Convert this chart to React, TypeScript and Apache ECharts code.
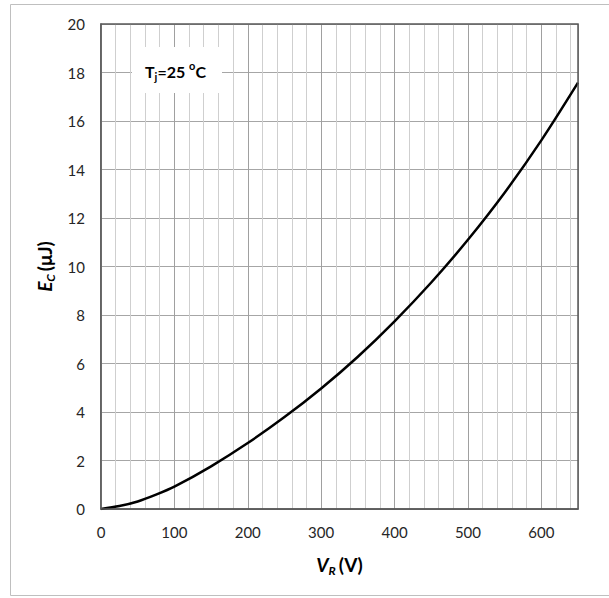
import React, { useEffect, useRef } from "react";
import * as echarts from "echarts";

const voltage = [0, 25, 50, 75, 100, 150, 200, 250, 300, 350, 400, 450, 500, 550, 600, 650];
const energy = [0, 0.12, 0.31, 0.59, 0.92, 1.76, 2.72, 3.79, 4.97, 6.28, 7.74, 9.34, 11.1, 13.04, 15.2, 17.58];
const xMin = 0;
const xMax = 650;
const xMajor = 100;
const xMinor = 20;
const yMin = 0;
const yMax = 20;
const yStep = 2;

const FONT = "Lato, 'Liberation Sans', sans-serif";

export default function App() {
  const ref = useRef<HTMLDivElement>(null);
  useEffect(() => {
    if (!ref.current) return;
    const chart = echarts.init(ref.current, undefined, { renderer: "svg" });
    const data = voltage.map((v, i) => [v, energy[i]]);
    const titleRich = {
      it: { fontSize: 19, fontWeight: "bold", fontStyle: "italic", lineHeight: 24, verticalAlign: "middle", fontFamily: FONT, color: "#000" },
      sub: { fontSize: 12, fontWeight: "bold", fontStyle: "italic", lineHeight: 12, verticalAlign: "bottom", fontFamily: FONT, color: "#000" },
      n: { fontSize: 19, fontWeight: "bold", lineHeight: 24, verticalAlign: "middle", fontFamily: FONT, color: "#000", padding: [0, 0, 0, 3] },
    };
    chart.setOption({
      animation: false,
      backgroundColor: "#ffffff",
      grid: {
        left: 101,
        top: 24,
        right: 31,
        bottom: 89,
        show: true,
        borderColor: "#595959",
        borderWidth: 1.5,
        backgroundColor: "transparent",
        z: 3,
      },
      xAxis: [
        {
          type: "value",
          min: xMin,
          max: xMax,
          interval: xMajor,
          z: 1,
          axisLine: { show: true, onZero: false, lineStyle: { color: "#595959", width: 1.5 } },
          axisTick: { show: false },
          axisLabel: {
            margin: 15,
            fontSize: 15,
            fontFamily: FONT,
            color: "#262626",
            formatter: (v: number) => (v % xMajor === 0 ? String(v) : ""),
          },
          splitLine: { show: true, lineStyle: { color: "#a0a0a0", width: 1 } },
          name: "{it|V}{sub|R}{n|(V)}",
          nameLocation: "middle",
          nameGap: 43,
          nameTextStyle: { fontFamily: FONT, color: "#000", rich: titleRich },
        },
        {
          type: "value",
          min: xMin,
          max: xMax,
          interval: xMinor,
          z: 0,
          axisLine: { show: false },
          axisTick: { show: false },
          axisLabel: { show: false },
          splitLine: { show: true, lineStyle: { color: "#cfcfcf", width: 1 } },
        },
      ],
      yAxis: {
        type: "value",
        min: yMin,
        max: yMax,
        interval: yStep,
        axisLine: { show: true, lineStyle: { color: "#595959", width: 1.5 } },
        axisTick: { show: false },
        axisLabel: { margin: 16, fontSize: 15, fontFamily: FONT, color: "#262626" },
        splitLine: { show: true, lineStyle: { color: "#a6a6a6", width: 1 } },
        name: "{it|E}{sub|C}{n|(μJ)}",
        nameLocation: "middle",
        nameGap: 40,
        nameTextStyle: { fontFamily: FONT, color: "#000", rich: titleRich },
      },
      series: [
        {
          type: "line",
          xAxisIndex: 0,
          data,
          smooth: 0.3,
          showSymbol: false,
          symbol: "none",
          lineStyle: { color: "#000000", width: 2.5 },
          z: 2,
        },
      ],
      graphic: [
        {
          type: "rect",
          shape: { x: 10.5, y: 4.5, width: 700, height: 591 },
          style: { fill: "none", stroke: "#bfbfbf", lineWidth: 1 },
          silent: true,
          z: 0,
        },
        {
          type: "rect",
          shape: { x: 132, y: 47, width: 90, height: 46 },
          style: { fill: "#ffffff" },
          z: 10,
        },
        {
          type: "text",
          x: 175.5,
          y: 71,
          z: 11,
          style: {
            text: "{m|T}{sub|j}{m|=25 }{sup|o}{m|C}",
            align: "center",
            verticalAlign: "middle",
            fontFamily: FONT,
            rich: {
              m: { fontSize: 16, fontWeight: "bold", lineHeight: 22, verticalAlign: "middle", fontFamily: FONT, fill: "#000" },
              sub: { fontSize: 11, fontWeight: "bold", lineHeight: 11, verticalAlign: "bottom", fontFamily: FONT, fill: "#000" },
              sup: { fontSize: 11, fontWeight: "bold", lineHeight: 15, verticalAlign: "top", fontFamily: FONT, fill: "#000" },
            },
          },
        },
      ],
    });
    return () => chart.dispose();
  }, []);
  return (
    <div
      ref={ref}
      style={{ position: "fixed", left: 0, top: 0, width: 609, height: 598, background: "#fff" }}
    />
  );
}
